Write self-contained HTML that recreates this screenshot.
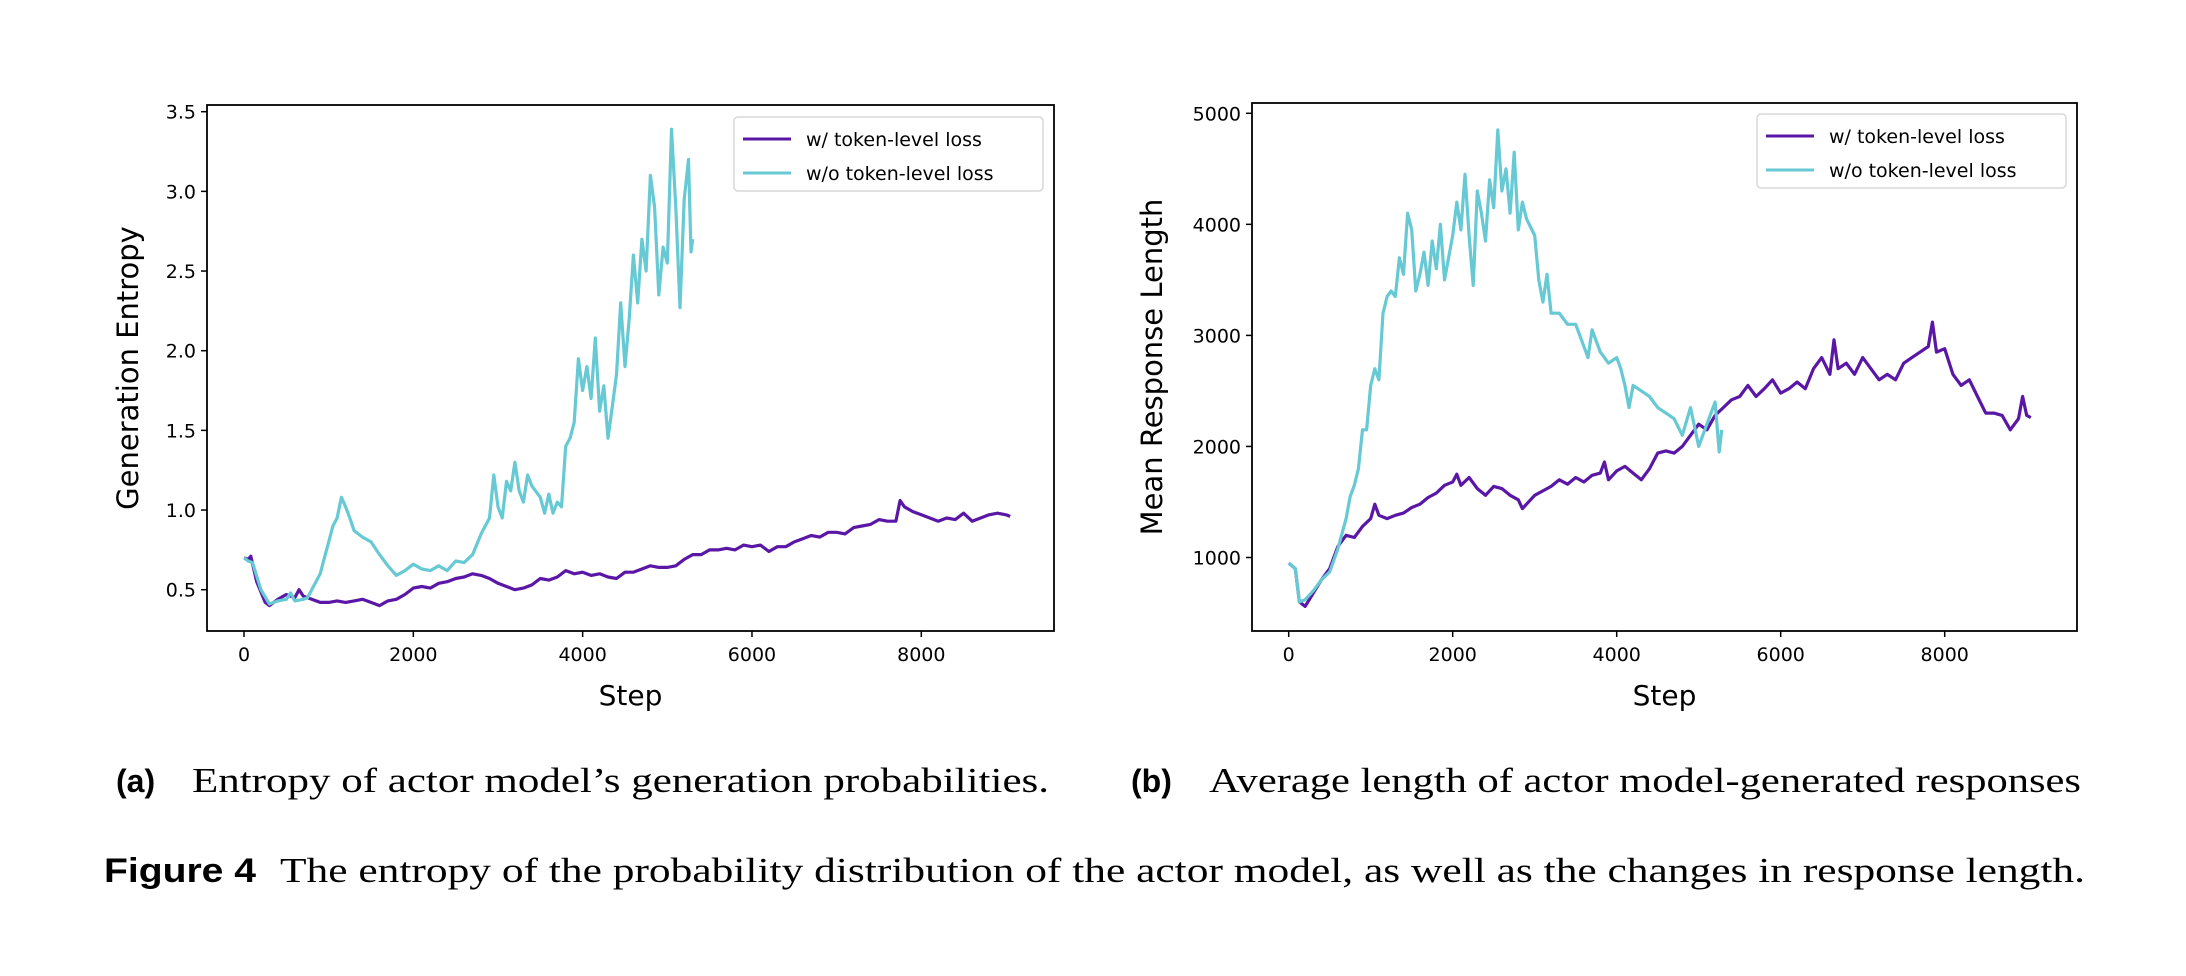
<!DOCTYPE html>
<html><head><meta charset="utf-8"><style>
html,body{margin:0;padding:0;background:#fff;}
svg{display:block;}
</style></head><body>
<svg id="fig" width="2186" height="976" xmlns="http://www.w3.org/2000/svg" font-family="'DejaVu Sans', 'Liberation Sans', sans-serif">
<g id="chartA"></g>
<g id="chartB"></g>
<g>
<text x="116" y="792" font-family="'Liberation Sans', sans-serif" font-weight="bold" font-size="32">(a)</text>
<text x="192" y="792" font-family="'Liberation Serif', serif" font-size="35" textLength="857" lengthAdjust="spacingAndGlyphs">Entropy of actor model’s generation probabilities.</text>
</g>
<g>
<text x="1131" y="792" font-family="'Liberation Sans', sans-serif" font-weight="bold" font-size="32">(b)</text>
<text x="1209" y="792" font-family="'Liberation Serif', serif" font-size="35" textLength="872" lengthAdjust="spacingAndGlyphs">Average length of actor model-generated responses</text>
</g>
<g>
<text x="104" y="882" font-family="'Liberation Sans', sans-serif" font-weight="bold" font-size="34" textLength="152" lengthAdjust="spacingAndGlyphs">Figure 4</text>
<text x="280" y="882" font-family="'Liberation Serif', serif" font-size="35" textLength="1805" lengthAdjust="spacingAndGlyphs">The entropy of the probability distribution of the actor model, as well as the changes in response length.</text>
</g>
</svg>
<script>
const NS="http://www.w3.org/2000/svg";
const stepsA_w=[0,50,80,150,250,300,400,500,600,650,700,800,900,1000,1100,1200,1300,1400,1500,1600,1700,1800,1900,2000,2100,2200,2300,2400,2500,2600,2700,2800,2900,3000,3100,3200,3300,3400,3500,3600,3700,3800,3900,4000,4100,4200,4300,4400,4500,4600,4700,4800,4900,5000,5100,5200,5300,5400,5500,5600,5700,5800,5900,6000,6100,6200,6300,6400,6500,6600,6700,6800,6900,7000,7100,7200,7300,7400,7500,7600,7700,7750,7800,7900,8000,8100,8200,8300,8400,8500,8600,8700,8800,8900,9000,9050];
const valsA_w=[0.70,0.69,0.71,0.55,0.42,0.40,0.44,0.47,0.45,0.50,0.46,0.44,0.42,0.42,0.43,0.42,0.43,0.44,0.42,0.40,0.43,0.44,0.47,0.51,0.52,0.51,0.54,0.55,0.57,0.58,0.60,0.59,0.57,0.54,0.52,0.50,0.51,0.53,0.57,0.56,0.58,0.62,0.60,0.61,0.59,0.60,0.58,0.57,0.61,0.61,0.63,0.65,0.64,0.64,0.65,0.69,0.72,0.72,0.75,0.75,0.76,0.75,0.78,0.77,0.78,0.74,0.77,0.77,0.80,0.82,0.84,0.83,0.86,0.86,0.85,0.89,0.90,0.91,0.94,0.93,0.93,1.06,1.02,0.99,0.97,0.95,0.93,0.95,0.94,0.98,0.93,0.95,0.97,0.98,0.97,0.96];
const stepsA_wo=[0,50,100,200,300,400,500,550,600,700,750,800,900,950,1000,1050,1100,1150,1200,1250,1300,1400,1500,1600,1700,1800,1900,2000,2100,2200,2300,2400,2500,2600,2700,2800,2900,2950,3000,3050,3100,3150,3200,3250,3300,3350,3400,3500,3550,3600,3650,3700,3750,3800,3850,3900,3950,4000,4050,4100,4150,4200,4250,4300,4350,4400,4450,4500,4550,4600,4650,4700,4750,4800,4850,4900,4950,5000,5050,5100,5150,5200,5250,5280,5300];
const valsA_wo=[0.70,0.68,0.67,0.50,0.41,0.43,0.44,0.48,0.43,0.44,0.45,0.50,0.60,0.70,0.80,0.90,0.95,1.08,1.02,0.95,0.87,0.83,0.80,0.72,0.65,0.59,0.62,0.66,0.63,0.62,0.65,0.62,0.68,0.67,0.72,0.85,0.95,1.22,1.02,0.95,1.18,1.12,1.30,1.12,1.05,1.22,1.15,1.08,0.98,1.10,0.98,1.05,1.02,1.40,1.45,1.55,1.95,1.75,1.90,1.70,2.08,1.62,1.78,1.45,1.65,1.85,2.30,1.90,2.20,2.60,2.30,2.70,2.50,3.10,2.90,2.35,2.65,2.55,3.39,2.90,2.27,2.95,3.20,2.62,2.70];
const ticksA_x=[0,2000,4000,6000,8000];
const ticksA_y=[0.5,1.0,1.5,2.0,2.5,3.0,3.5];
const stepsB_w=[0,80,130,200,300,400,500,600,700,800,900,1000,1050,1100,1200,1300,1400,1500,1600,1700,1800,1900,2000,2050,2100,2200,2300,2400,2500,2600,2700,2800,2850,2900,3000,3100,3200,3300,3400,3500,3600,3700,3800,3850,3900,4000,4100,4200,4300,4400,4500,4600,4700,4800,4900,5000,5100,5200,5300,5400,5500,5600,5700,5800,5900,6000,6100,6200,6300,6400,6500,6600,6650,6700,6800,6900,7000,7100,7200,7300,7400,7500,7600,7700,7800,7850,7900,8000,8100,8200,8300,8400,8500,8600,8700,8800,8900,8950,9000,9050];
const valsB_w=[950,900,600,560,680,800,900,1100,1200,1180,1280,1350,1480,1380,1350,1380,1400,1450,1480,1540,1580,1650,1680,1750,1650,1720,1620,1560,1640,1620,1560,1520,1440,1480,1560,1600,1640,1700,1660,1720,1680,1740,1760,1860,1700,1780,1820,1760,1700,1800,1940,1960,1940,2000,2100,2200,2150,2280,2350,2420,2450,2550,2450,2520,2600,2480,2520,2580,2520,2700,2800,2650,2960,2700,2750,2650,2800,2700,2600,2650,2600,2750,2800,2850,2900,3120,2850,2880,2650,2550,2600,2450,2300,2300,2280,2150,2250,2450,2280,2260];
const stepsB_wo=[0,80,130,200,300,400,500,600,700,750,800,850,900,950,1000,1050,1100,1150,1200,1250,1300,1350,1400,1450,1500,1550,1600,1650,1700,1750,1800,1850,1900,2000,2050,2100,2150,2200,2250,2300,2350,2400,2450,2500,2550,2600,2650,2700,2750,2800,2850,2900,3000,3050,3100,3150,3200,3300,3400,3500,3600,3650,3700,3800,3900,4000,4050,4100,4150,4200,4300,4400,4500,4600,4700,4800,4900,5000,5100,5200,5250,5280];
const valsB_wo=[950,900,600,620,700,800,870,1080,1350,1550,1650,1800,2150,2150,2550,2700,2600,3200,3350,3400,3350,3700,3550,4100,3950,3400,3550,3750,3450,3850,3600,4000,3500,3900,4200,3950,4450,3900,3450,4300,4100,3850,4400,4150,4850,4300,4500,4100,4650,3950,4200,4050,3900,3500,3300,3550,3200,3200,3100,3100,2900,2800,3050,2850,2750,2800,2700,2550,2350,2550,2500,2450,2350,2300,2250,2100,2350,2000,2200,2400,1950,2150];
const ticksB_x=[0,2000,4000,6000,8000];
const ticksB_y=[1000,2000,3000,4000,5000];

function mk(parent,tag,attrs){const e=document.createElementNS(NS,tag);for(const k in attrs)e.setAttribute(k,attrs[k]);parent.appendChild(e);return e;}

function chart(g,cfg){
  const sx=v=>cfg.x0+(v-cfg.xa)*(cfg.x1-cfg.x0)/(cfg.xb-cfg.xa);
  const sy=v=>cfg.y0+(v-cfg.ya)*(cfg.y1-cfg.y0)/(cfg.yb-cfg.ya);
  cfg.series.forEach(s=>{
    let d="";s.xs.forEach((x,i)=>{d+=(i?"L":"M")+sx(x).toFixed(1)+" "+sy(s.ys[i]).toFixed(1);});
    const p=mk(g,"path",{d:d,fill:"none",stroke:s.color,"stroke-width":3.2,"stroke-linejoin":"round"});
    
    
  });
  const f=mk(g,"rect",{x:cfg.L,y:cfg.T,width:cfg.R-cfg.L,height:cfg.B-cfg.T,fill:"none",stroke:"#000","stroke-width":1.8});
  
  
  cfg.tx.forEach(t=>{
    const x=sx(t);
    mk(g,"line",{x1:x,x2:x,y1:cfg.B,y2:cfg.B+6,stroke:"#000","stroke-width":1.5});
    const tt=mk(g,"text",{x:x,y:cfg.B+30,"text-anchor":"middle","font-size":19});
    tt.textContent=t;
    
    
  });
  cfg.ty.forEach(t=>{
    const y=sy(t);
    mk(g,"line",{x1:cfg.L,x2:cfg.L-6,y1:y,y2:y,stroke:"#000","stroke-width":1.5});
    const tt=mk(g,"text",{x:cfg.L-11,y:y+7,"text-anchor":"end","font-size":19});
    tt.textContent=cfg.fmt(t);
    
    
  });
  const xl=mk(g,"text",{x:(cfg.L+cfg.R)/2,y:cfg.B+74,"text-anchor":"middle","font-size":28});
  xl.textContent="Step";
  
  
  const yl=mk(g,"text",{x:0,y:0,"text-anchor":"middle","font-size":29,transform:`translate(${cfg.ylx},${(cfg.T+cfg.B)/2}) rotate(-90)`});
  yl.textContent=cfg.ylabel;
  
  
  const lg=mk(g,"g",{});
  
  
  mk(lg,"rect",{x:cfg.lx,y:cfg.ly,width:309,height:74,rx:4,fill:"#fff",stroke:"#d8d8d8","stroke-width":1.5});
  cfg.series.forEach((s,i)=>{
    const yy=cfg.ly+22+i*34;
    const e=mk(lg,"g",{});
    
    
    mk(e,"line",{x1:cfg.lx+9,x2:cfg.lx+57,y1:yy,y2:yy,stroke:s.color,"stroke-width":3});
    const t=mk(e,"text",{x:cfg.lx+72,y:yy+7,"font-size":19});
    t.textContent=s.label;
  });
}
const PURPLE="#5a17a6", CYAN="#66c9d4";
chart(document.getElementById("chartA"),{L:207,R:1054,T:105,B:631,x0:244,x1:921.3,xa:0,xb:8000,y0:589.7,y1:111.7,ya:0.5,yb:3.5,
  tx:ticksA_x,ty:ticksA_y,fmt:v=>v.toFixed(1),ylabel:"Generation Entropy",ylx:138,lx:734,ly:117,
  series:[{name:"series-with-token-loss",label:"w/ token-level loss",color:PURPLE,xs:stepsA_w,ys:valsA_w},
          {name:"series-without-token-loss",label:"w/o token-level loss",color:CYAN,xs:stepsA_wo,ys:valsA_wo}]});
chart(document.getElementById("chartB"),{L:1252,R:2077,T:103,B:631,x0:1288.7,x1:1944.7,xa:0,xb:8000,y0:557.5,y1:113.3,ya:1000,yb:5000,
  tx:ticksB_x,ty:ticksB_y,fmt:v=>String(v),ylabel:"Mean Response Length",ylx:1162,lx:1757,ly:114,
  series:[{name:"series-with-token-loss",label:"w/ token-level loss",color:PURPLE,xs:stepsB_w,ys:valsB_w},
          {name:"series-without-token-loss",label:"w/o token-level loss",color:CYAN,xs:stepsB_wo,ys:valsB_wo}]});
</script>
</body></html>
